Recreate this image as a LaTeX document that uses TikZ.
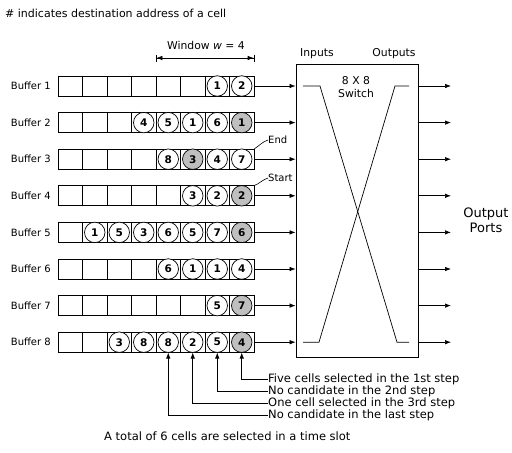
\documentclass[tikz,border=0pt]{standalone}
\usepackage{fontspec}
\setmainfont{DejaVu Sans}
\usetikzlibrary{arrows.meta}
\newcommand\mkcell[4]{\node[cellc, fill=#4] (d#1-#2) at (c#1-#2) {#3};}
\begin{document}
\begin{tikzpicture}[x=1pt,y=-1pt,
  cellbox/.style={draw, line width=0.7pt, minimum width=24.5pt, minimum height=20pt, inner sep=0pt},
  cellc/.style={draw, circle, line width=0.7pt, minimum size=20.5pt, inner sep=0pt, font=\bfseries\fontsize{10.5}{10.5}\selectfont},
  lab/.style={font=\fontsize{10}{12}\selectfont, inner sep=0pt},
  slab/.style={font=\fontsize{10.8}{13}\selectfont, inner sep=0pt},
  note/.style={font=\fontsize{11.5}{12}\selectfont, inner sep=0pt, anchor=west},
  arr/.style={-{Latex[length=6pt,width=4.5pt]}, line width=0.7pt}
]
\useasboundingbox (0,0) rectangle (512,453);

\node[note, font=\fontsize{11}{12}\selectfont] (hdr) at (5,13) {\# indicates destination address of a cell};

% buffers
\foreach \b in {1,...,8}{
  \pgfmathsetmacro\yy{86+36.6*(\b-1)}
  \node[lab, anchor=east] (L\b) at (51,\yy) {Buffer \b};
  \foreach \j in {0,...,7}{
    \node[cellbox] (c\b-\j) at ({58+24.5*(\j+0.5)},\yy) {};
  }
}

\def\sh{gray!50}
\mkcell{1}{6}{1}{white}\mkcell{1}{7}{2}{white}
\mkcell{2}{3}{4}{white}\mkcell{2}{4}{5}{white}\mkcell{2}{5}{1}{white}\mkcell{2}{6}{6}{white}\mkcell{2}{7}{1}{\sh}
\mkcell{3}{4}{8}{white}\mkcell{3}{5}{3}{\sh}\mkcell{3}{6}{4}{white}\mkcell{3}{7}{7}{white}
\mkcell{4}{5}{3}{white}\mkcell{4}{6}{2}{white}\mkcell{4}{7}{2}{\sh}
\mkcell{5}{1}{1}{white}\mkcell{5}{2}{5}{white}\mkcell{5}{3}{3}{white}\mkcell{5}{4}{6}{white}\mkcell{5}{5}{5}{white}\mkcell{5}{6}{7}{white}\mkcell{5}{7}{6}{\sh}
\mkcell{6}{4}{6}{white}\mkcell{6}{5}{1}{white}\mkcell{6}{6}{1}{white}\mkcell{6}{7}{4}{white}
\mkcell{7}{6}{5}{white}\mkcell{7}{7}{7}{\sh}
\mkcell{8}{2}{3}{white}\mkcell{8}{3}{8}{white}\mkcell{8}{4}{8}{white}\mkcell{8}{5}{2}{white}\mkcell{8}{6}{5}{white}\mkcell{8}{7}{4}{\sh}

% window
\coordinate (wl) at (c1-4.west |- 0,58);
\coordinate (wr) at (c1-7.east |- 0,58);
\draw[line width=0.7pt, {Bar[width=7pt]Latex[length=6pt,width=4.5pt]}-{Latex[length=6pt,width=4.5pt]Bar[width=7pt]}] (wl) -- (wr);
\node[slab] (win) at (206,45) {Window \textit{w} = 4};

% switch
\node[draw, line width=0.8pt, minimum width=122pt, minimum height=293pt, inner sep=0pt] (sw) at (357,210.5) {};
\node[slab] (inl) at (317,54) {Inputs};
\node[slab] (outl) at (394,54) {Outputs};
\node[slab, align=center] (swl) at (356,87) {8 X 8\\Switch};
\draw[line width=0.7pt] (303,86) -- (320,86) -- (397,342.2) -- (409,342.2);
\draw[line width=0.7pt] (303,342.2) -- (319,342.2) -- (395,86) -- (409,86);

% inputs and outputs
\foreach \b in {1,...,8}{
  \draw[arr] (c\b-7.east) -- (c\b-7.east -| sw.west);
  \pgfmathsetmacro\yy{86+36.6*(\b-1)}
  \coordinate (o\b) at (451,\yy);
  \draw[arr] (o\b -| sw.east) -- (o\b);
}
\node[align=center, font=\fontsize{13}{15}\selectfont, inner sep=0pt] (ports) at (486,220) {Output\\Ports};

% End / Start
\node[lab, anchor=west] (endl) at (268,140) {End};
\draw[line width=0.6pt] (c3-7.north east) .. controls (259,146) and (262,142) .. (endl.west);
\node[lab, anchor=west] (startl) at (268,178) {Start};
\draw[line width=0.6pt] (c4-7.north east) .. controls (259,184) and (262,180) .. (startl.west);

% bottom annotations
\node[note] (n1) at (268,379) {Five cells selected in the 1st step};
\node[note] (n2) at (268,391) {No candidate in the 2nd step};
\node[note] (n3) at (268,403) {One cell selected in the 3rd step};
\node[note] (n4) at (268,415) {No candidate in the last step};
\draw[arr] (n1.west) -| (c8-7.south);
\draw[arr] (n2.west) -| (c8-6.south);
\draw[arr] (n3.west) -| (c8-5.south);
\draw[arr] (n4.west) -| (c8-4.south);
\node[note] (tot) at (104,436) {A total of 6 cells are selected in a time slot};
\end{tikzpicture}
\end{document}
